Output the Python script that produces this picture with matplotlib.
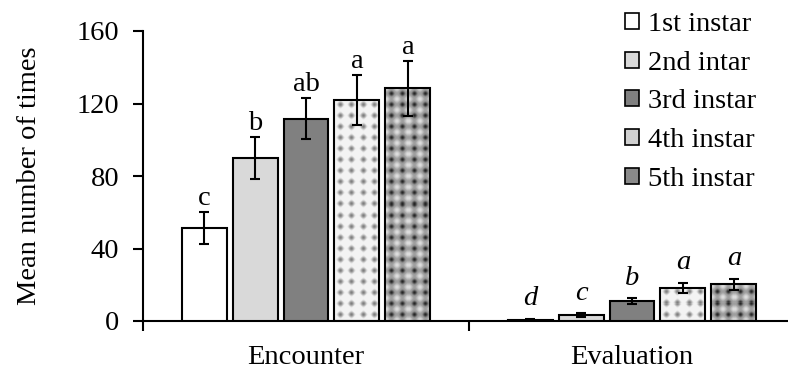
import numpy as np
import matplotlib
matplotlib.use("Agg")
import matplotlib.pyplot as plt
from matplotlib.patches import Patch

plt.rcParams['font.family'] = ['Liberation Serif', 'DejaVu Serif']

groups = ["Encounter", "Evaluation"]
stages = ["1st instar", "2nd intar", "3rd instar", "4th instar", "5th instar"]

encounter_mean = [51.3, 90.0, 111.7, 122.1, 128.4]
encounter_se = [8.9, 11.7, 11.5, 13.8, 15.2]
evaluation_mean = [0.8, 3.3, 11.0, 18.4, 20.2]
evaluation_se = [0.3, 0.9, 1.5, 2.7, 3.1]

encounter_letters = ["c", "b", "ab", "a", "a"]
evaluation_letters = ["d", "c", "b", "a", "a"]

face = ["white", "#d9d9d9", "#808080", None, None]
FS = 20.5


def texture(kind, nx, ny, period=11.0):
    # dotted screen fill, period in pixels
    x = np.arange(nx)[None, :]
    y = np.arange(ny)[:, None]
    v = 0.5 * (np.cos(2 * np.pi * (x + 5) / period) + np.cos(2 * np.pi * (y + 5) / period))
    if kind == 4:
        g = 0.95 - 0.45 * np.clip(v, 0, 1) ** 1.5
    else:
        g = 0.62 - 0.47 * np.clip(v, 0, 1) ** 2 + 0.25 * np.clip(-v, 0, 1)
    return g


fig = plt.figure(figsize=(7.88, 3.70), dpi=100)
ax = fig.add_axes([143 / 788, 49 / 370, 652 / 788, 290 / 370])

width = 0.138
step = 0.1564
x = np.arange(len(groups))
means = [encounter_mean, evaluation_mean]
ses = [encounter_se, evaluation_se]
letters = [encounter_letters, evaluation_letters]
letter_gap = [3.7, 7.5]

ax.set_xlim(-0.5, 1.5)
ax.set_ylim(0, 160)

legend_handles = []
for i, stage in enumerate(stages):
    xs = x + (i - 2) * step
    vals = [means[0][i], means[1][i]]
    errs = [ses[0][i], ses[1][i]]
    fc = face[i] if face[i] is not None else "none"
    bars = ax.bar(xs, vals, width=width, color=fc, edgecolor="black", linewidth=1.5, zorder=3)
    if face[i] is None:
        for b in bars:
            x0, y0 = b.get_x(), b.get_y()
            w, h = b.get_width(), b.get_height()
            nx = max(int(w / 2 * 652), 2)
            ny = max(int(h / 160 * 290), 2)
            img = texture(i + 1, nx, ny)
            im = ax.imshow(img, cmap="gray", vmin=0, vmax=1, extent=(x0, x0 + w, y0, y0 + h),
                           origin="lower", aspect="auto", interpolation="nearest", zorder=2)
            im.set_clip_path(b)
        ax.set_aspect("auto")
    ax.errorbar(xs, vals, yerr=errs, fmt="none", ecolor="black", elinewidth=1.5,
                capsize=3.5, capthick=1.5, zorder=4)
    for g in range(len(groups)):
        top = means[g][i] + ses[g][i]
        style = "normal" if g == 0 else "italic"
        ax.text(xs[g], top + letter_gap[g], letters[g][i], ha="center", va="baseline",
                fontsize=FS, fontstyle=style, zorder=5)
    if face[i] is None:
        fc_leg = "#d0d0d0" if i == 3 else "#8a8a8a"
    else:
        fc_leg = face[i]
    legend_handles.append(Patch(facecolor=fc_leg, edgecolor="black", linewidth=1.2, label=stage))

ax.spines["top"].set_visible(False)
ax.spines["right"].set_visible(False)
ax.spines["left"].set_linewidth(1.5)
ax.spines["bottom"].set_linewidth(1.5)

ax.set_yticks([0, 40, 80, 120, 160])
ax.tick_params(axis="y", direction="out", length=7, width=1.5, labelsize=FS, pad=10)
ax.set_xticks([-0.5, 0.5, 1.5])
ax.set_xticklabels([])
ax.tick_params(axis="x", which="major", direction="out", length=7, width=1.5)
ax.set_xticks(x, minor=True)
ax.set_xticklabels(groups, minor=True)
ax.tick_params(axis="x", which="minor", length=0, labelsize=FS, pad=17)
ax.set_ylabel("Mean number of times", fontsize=FS, labelpad=25)

ax.legend(handles=legend_handles, loc="upper left", bbox_to_anchor=(482 / 652, 1.065),
          frameon=False, fontsize=FS, handlelength=0.5, handleheight=0.5,
          handletextpad=0.3, labelspacing=0.48, borderaxespad=0, borderpad=0)

fig.savefig("out.png", dpi=100)
